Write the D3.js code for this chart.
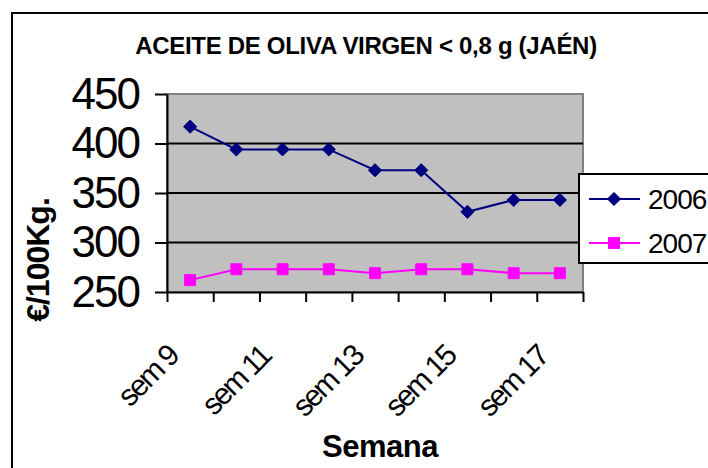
<!DOCTYPE html>
<meta charset="utf-8">
<style>
body { margin: 0; background: #fff; }
text { font-family: "Liberation Sans", Arial, sans-serif; }
</style>
<body>
<script src="https://d3js.org/d3.v7.min.js"></script>
<script>

// data
var weeks = ["sem 9", "sem 10", "sem 11", "sem 12", "sem 13", "sem 14", "sem 15", "sem 16", "sem 17"];
var v2006 = [417, 394, 394, 394, 373, 373, 331, 343, 343];
var v2007 = [262, 273, 273, 273, 269, 273, 273, 269, 269];
var yTicks = [250, 300, 350, 400, 450];
var seriesNames = ["2006", "2007"];
var seriesColors = ["#000080", "#FF00FF"];

var margin = {top: 94, left: 167},
    width = 416,
    height = 198;

var svg = d3.select("body").append("svg")
    .attr("width", 708)
    .attr("height", 468);

// outer chart frame (runs off the picture on right and bottom)
svg.append("rect")
    .attr("x", 12).attr("y", 13)
    .attr("width", 740).attr("height", 500)
    .attr("fill", "none")
    .attr("stroke", "#000")
    .attr("stroke-width", 2);

var g = svg.append("g")
    .attr("transform", "translate(" + margin.left + "," + margin.top + ")");

var x = d3.scaleBand().domain(weeks).range([0, width]);
var xb = d3.scaleLinear().domain([0, weeks.length]).range([0, width]);
var y = d3.scaleLinear().domain([250, 450]).range([height, 0]);

// plot background
g.append("rect")
    .attr("width", width).attr("height", height)
    .attr("fill", "#C0C0C0")
    .attr("stroke", "#808080")
    .attr("stroke-width", 2);

// gridlines
g.selectAll(".grid")
    .data(yTicks.slice(1, -1))
  .enter().append("line")
    .attr("x1", 0).attr("x2", width)
    .attr("y1", function(d) { return y(d); })
    .attr("y2", function(d) { return y(d); })
    .attr("stroke", "#000")
    .attr("stroke-width", 2);

// y axis
var yAxis = g.append("g")
    .call(d3.axisLeft(y).tickValues(yTicks).tickSize(12).tickSizeOuter(0).tickPadding(16));
yAxis.select(".domain").attr("stroke-width", 2);
yAxis.selectAll(".tick line").attr("stroke-width", 2);
yAxis.selectAll("text")
    .style("font-size", "44px")
    .style("letter-spacing", "-2px")
    .attr("fill", "#000");

// x axis: boundary ticks
var xTickAxis = g.append("g")
    .attr("transform", "translate(0," + height + ")")
    .call(d3.axisBottom(xb).tickValues(d3.range(weeks.length + 1)).tickSize(10).tickSizeOuter(0).tickFormat(""));
xTickAxis.select(".domain").attr("stroke-width", 2);
xTickAxis.selectAll(".tick line").attr("stroke-width", 2);

// x axis: labels every other week
var xLabAxis = g.append("g")
    .attr("transform", "translate(0," + height + ")")
    .call(d3.axisBottom(x).tickValues(weeks.filter(function(d, i) { return i % 2 === 0; })).tickSize(0));
xLabAxis.select(".domain").remove();
xLabAxis.selectAll("text")
    .attr("y", 0).attr("dy", 0)
    .attr("transform", "translate(-10,66) rotate(-45)")
    .style("text-anchor", "end")
    .style("font-size", "30px")
    .style("letter-spacing", "-2.2px")
    .attr("fill", "#000");

// lines and markers
var line = d3.line()
    .x(function(d, i) { return x(weeks[i]) + x.bandwidth() / 2; })
    .y(function(d) { return y(d); });

[v2006, v2007].forEach(function(vals, s) {
  g.append("path")
      .datum(vals)
      .attr("fill", "none")
      .attr("stroke", seriesColors[s])
      .attr("stroke-width", 2)
      .attr("d", line);
});

var diamond = d3.symbol().type(d3.symbolDiamond2).size(110);
var square = d3.symbol().type(d3.symbolSquare).size(120);

g.selectAll(".m2006")
    .data(v2006)
  .enter().append("path")
    .attr("transform", function(d, i) { return "translate(" + (x(weeks[i]) + x.bandwidth() / 2) + "," + y(d) + ")"; })
    .attr("d", diamond)
    .attr("fill", seriesColors[0])
    .attr("stroke", seriesColors[0]);

g.selectAll(".m2007")
    .data(v2007)
  .enter().append("path")
    .attr("transform", function(d, i) { return "translate(" + (x(weeks[i]) + x.bandwidth() / 2) + "," + y(d) + ")"; })
    .attr("d", square)
    .attr("fill", seriesColors[1])
    .attr("stroke", seriesColors[1]);

// legend
var legend = svg.append("g").attr("transform", "translate(579,174)");
legend.append("rect")
    .attr("width", 160).attr("height", 89)
    .attr("fill", "#fff")
    .attr("stroke", "#000")
    .attr("stroke-width", 2);

seriesNames.forEach(function(name, i) {
  var ly = 25 + i * 44;
  legend.append("line")
      .attr("x1", 10).attr("x2", 61)
      .attr("y1", ly).attr("y2", ly)
      .attr("stroke", seriesColors[i])
      .attr("stroke-width", 2);
  legend.append("path")
      .attr("transform", "translate(35," + ly + ")")
      .attr("d", i === 0 ? diamond : square)
      .attr("fill", seriesColors[i])
      .attr("stroke", seriesColors[i]);
  legend.append("text")
      .attr("x", 69).attr("y", ly)
      .attr("dy", "0.36em")
      .style("font-size", "28px")
      .style("letter-spacing", "-1px")
      .text(name);
});

// title
svg.append("text")
    .attr("x", 366).attr("y", 54)
    .attr("text-anchor", "middle")
    .style("font-size", "24px")
    .style("font-weight", "bold")
    .style("letter-spacing", "-0.3px")
    .text("ACEITE DE OLIVA VIRGEN < 0,8 g (JAÉN)");

// y axis title
svg.append("text")
    .attr("transform", "translate(49,260) rotate(-90)")
    .attr("text-anchor", "middle")
    .style("font-size", "32px")
    .style("font-weight", "bold")
    .style("letter-spacing", "-1px")
    .text("€/100Kg.");

// x axis title
svg.append("text")
    .attr("x", 380).attr("y", 457)
    .attr("text-anchor", "middle")
    .style("font-size", "31px")
    .style("font-weight", "bold")
    .style("letter-spacing", "-0.5px")
    .text("Semana");

</script>
</body>
